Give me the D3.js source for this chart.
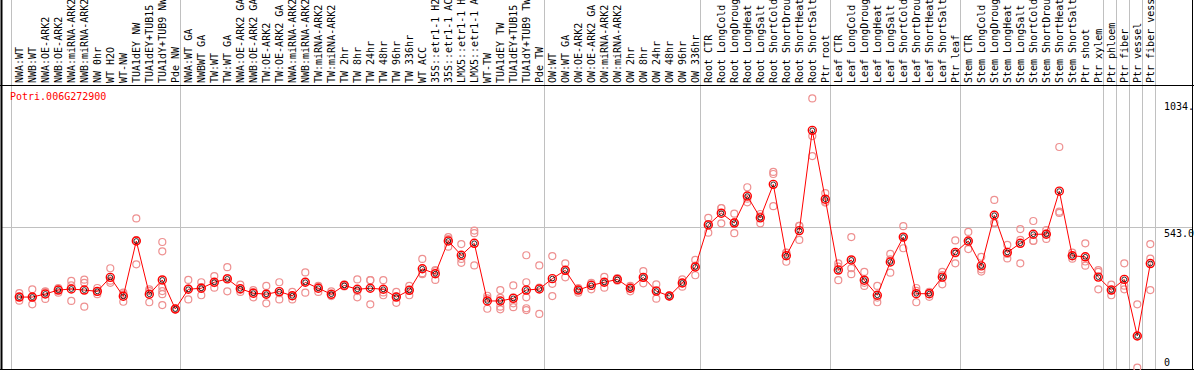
<!DOCTYPE html>
<html>
<head>
<meta charset="utf-8">
<script src="https://cdn.jsdelivr.net/npm/d3@7"></script>
<style>
  body { margin: 0; background: #fff; }
  text { font-family: "DejaVu Sans Mono", monospace; font-size: 10px; }
</style>
</head>
<body>
<div id="chart"></div>
<script>
var gene = "Potri.006G272900";

var samples = ["NWA:WT", "NWB:WT", "NWA:OE-ARK2", "NWB:OE-ARK2", "NWA:miRNA-ARK2", "NWB:miRNA-ARK2",
    "NW 0hr", "WT H2O", "WT-NW", "TUA1dEY NW", "TUA1dEY+TUB15 NW", "TUA1dY+TUB9 NW", "Pde NW",
    "NWA:WT GA", "NWBWT GA", "TW:WT", "TW:WT GA", "NWA:OE-ARK2 GA", "NWB:OE-ARK2 GA", "TW:OE-ARK2",
    "TW:OE-ARK2 GA", "NWA:miRNA-ARK2 GA", "NWB:miRNA-ARK2 GA", "TW:miRNA-ARK2", "TW:miRNA-ARK2 GA",
    "TW 2hr", "TW 8hr", "TW 24hr", "TW 48hr", "TW 96hr", "TW 336hr", "WT ACC", "35S::etr1-1 H2O",
    "35S::etr1-1 ACC", "LMX5::etr1-1 H2O", "LMX5::etr1-1 ACC", "WT-TW", "TUA1dEY TW", "TUA1dEY+TUB15 TW",
    "TUA1dY+TUB9 TW", "Pde TW",
    "OW:WT", "OW:WT GA", "OW:OE-ARK2", "OW:OE-ARK2 GA", "OW:miRNA-ARK2", "OW:miRNA-ARK2 GA",
    "OW 2hr", "OW 8hr", "OW 24hr", "OW 48hr", "OW 96hr", "OW 336hr",
    "Root CTR", "Root LongCold", "Root LongDrought", "Root LongHeat", "Root LongSalt", "Root ShortCold",
    "Root ShortDrought", "Root ShortHeat", "Root ShortSalt", "Ptr root",
    "Leaf CTR", "Leaf LongCold", "Leaf LongDrought", "Leaf LongHeat", "Leaf LongSalt", "Leaf ShortCold",
    "Leaf ShortDrought", "Leaf ShortHeat", "Leaf ShortSalt", "Ptr leaf",
    "Stem CTR", "Stem LongCold", "Stem LongDrought", "Stem LongHeat", "Stem LongSalt", "Stem ShortCold",
    "Stem ShortDrought", "Stem ShortHeat", "Stem ShortSalt", "Ptr shoot", "Ptr xylem",
    "Ptr phloem", "Ptr fiber", "Ptr vessel", "Ptr fiber vessel"];

// index of the first sample of each group (last entry = end)
var group_breaks = [0, 13, 41, 53, 63, 73, 84, 85, 86, 87, 88];

var means = [277, 277, 289, 304, 308, 304, 299, 353, 280, 493, 288, 343, 231,
    307, 311, 334, 347, 309, 292, 288, 298, 282, 334, 311, 288, 322, 307, 311, 307, 277, 303,
    386, 367, 493, 438, 484, 262, 262, 272, 304, 308,
    348, 380, 304, 322, 334, 345, 311, 353, 300, 281, 331, 393,
    555, 600, 562, 666, 582, 711, 436, 533, 919, 654,
    381, 420, 342, 284, 412, 508, 290, 290, 354, 449,
    493, 397, 592, 449, 484, 519, 519, 685, 436, 432, 354,
    304, 345, 127, 406];

var replicates = [[292, 263, 277], [307, 249, 277], [297, 270, 299], [312, 294, 306], [339, 322, 262],
    [344, 332, 240], [312, 288, 298], [388, 332, 340], [294, 259, 287], [580, 403, 496], [307, 257, 300],
    [489, 453, 316, 300, 288, 246], [231, 229, 233],
    [343, 268, 310], [334, 284, 315], [358, 313, 331], [392, 299, 350], [325, 297, 305], [304, 276, 296],
    [320, 253, 291], [334, 268, 292], [297, 268, 281], [372, 294, 336], [320, 297, 316], [299, 284, 281],
    [326, 318, 322], [345, 276, 300], [342, 249, 342], [342, 284, 295], [297, 255, 279], [320, 284, 305],
    [424, 365, 369], [381, 343, 377], [508, 471, 500], [481, 409, 424], [533, 523, 399], [272, 232, 282],
    [304, 240, 230, 274], [322, 253, 238, 276], [438, 334, 276, 234, 227], [399, 212, 313],
    [435, 281, 328], [407, 353, 380], [312, 294, 306], [332, 307, 327], [355, 313, 334], [350, 340, 345],
    [320, 299, 314], [377, 330, 352], [326, 271, 303], [283, 279, 281], [345, 317, 331], [420, 361, 398],
    [582, 525, 558], [620, 561, 619], [598, 523, 565], [700, 642, 656], [597, 561, 588], [759, 751, 627],
    [448, 413, 447], [551, 497, 551], [1042, 897, 820], [677, 644, 641],
    [407, 342, 394], [508, 388, 365], [374, 320, 332], [320, 257, 275], [443, 371, 422], [550, 465, 509],
    [312, 257, 301], [297, 278, 295], [374, 326, 362], [495, 407, 445],
    [528, 462, 489], [432, 375, 384], [651, 561, 564], [478, 426, 443], [539, 407, 497], [570, 494, 493],
    [535, 501, 521], [855, 606, 601], [448, 425, 435], [484, 398, 414], [381, 307, 374],
    [325, 284, 303], [407, 307, 321], [249, 5, 127], [481, 425, 304]];

var y_ticks = [0, 543, 1034];
var y_tick_labels = ["0", "543.0", "1034."];

var W = 1194, H = 370;
var headerH = 85, plotBottom = 369, rightEdge = 1192;

var svg = d3.select("#chart")
    .append("svg")
    .attr("width", W)
    .attr("height", H);

var x = d3.scaleBand()
    .domain(d3.range(samples.length))
    .range([11.3, 1155.3]);

var cx = function(i) { return x(i) + 8; };

var y = d3.scaleLinear()
    .domain([0, 1034])
    .range([plotBottom, 100.5]);

// group separators
svg.selectAll(".sep")
    .data(group_breaks)
    .enter()
    .append("line")
    .attr("class", "sep")
    .attr("x1", function(d) { return d < samples.length ? x(d) : x(d - 1) + x.bandwidth(); })
    .attr("x2", function(d) { return d < samples.length ? x(d) : x(d - 1) + x.bandwidth(); })
    .attr("y1", 0)
    .attr("y2", plotBottom)
    .attr("stroke", "#c0c0c0")
    .attr("stroke-width", 1)
    .attr("shape-rendering", "crispEdges");

// grid line at middle tick
svg.append("line")
    .attr("x1", 1)
    .attr("x2", rightEdge)
    .attr("y1", y(543))
    .attr("y2", y(543))
    .attr("stroke", "#c0c0c0")
    .attr("shape-rendering", "crispEdges");

// frame
svg.append("line").attr("x1", 0).attr("x2", W).attr("y1", headerH + 0.5).attr("y2", headerH + 0.5)
    .attr("stroke", "#000");
svg.append("line").attr("x1", 0).attr("x2", W).attr("y1", plotBottom + 0.5).attr("y2", plotBottom + 0.5)
    .attr("stroke", "#000");
svg.append("line").attr("x1", 1.5).attr("x2", 1.5).attr("y1", 0).attr("y2", H)
    .attr("stroke", "#000").attr("stroke-width", 2);
svg.append("line").attr("x1", rightEdge + 0.5).attr("x2", rightEdge + 0.5).attr("y1", 0).attr("y2", H)
    .attr("stroke", "#000");

// sample labels, rotated (long ones run off the top, as in the original)
svg.selectAll(".lab")
    .data(samples)
    .enter()
    .append("text")
    .attr("class", "lab")
    .attr("transform", function(d, i) { return "translate(" + (cx(i) + 4) + "," + 83 + ") rotate(-90)"; })
    .text(function(d) { return d; })
    .style("fill", "#000");

// y tick labels
svg.selectAll(".ytick")
    .data(y_ticks)
    .enter()
    .append("text")
    .attr("class", "ytick")
    .attr("x", 1164)
    .attr("y", function(d) { return d == 0 ? y(d) - 3.5 : y(d) + 9.5; })
    .text(function(d, i) { return y_tick_labels[i]; })
    .style("fill", "#000");

// title
svg.append("text")
    .attr("x", 10)
    .attr("y", 100)
    .text(gene)
    .style("fill", "#ff0000");

// replicate points
var reps = [];
replicates.forEach(function(r, i) {
    r.forEach(function(v) { reps.push({ i: i, v: v }); });
});

svg.selectAll(".rep")
    .data(reps)
    .enter()
    .append("circle")
    .attr("class", "rep")
    .attr("cx", function(d) { return cx(d.i); })
    .attr("cy", function(d) { return y(d.v); })
    .attr("r", 3.5)
    .attr("fill", "none")
    .attr("stroke", "#ee9090")
    .attr("stroke-width", 1.2);

// mean line
var line = d3.line()
    .x(function(d, i) { return cx(i); })
    .y(function(d) { return y(d); });

svg.append("path")
    .datum(means)
    .attr("d", line)
    .attr("fill", "none")
    .attr("stroke", "#ff0000")
    .attr("stroke-width", 1);

// mean markers: red ring with a thin dark ring inside
svg.selectAll(".meanIn")
    .data(means)
    .enter()
    .append("circle")
    .attr("class", "meanIn")
    .attr("cx", function(d, i) { return cx(i); })
    .attr("cy", function(d) { return y(d); })
    .attr("r", 2.4)
    .attr("fill", "none")
    .attr("stroke", "#000")
    .attr("stroke-width", 0.8);

svg.selectAll(".mean")
    .data(means)
    .enter()
    .append("circle")
    .attr("class", "mean")
    .attr("cx", function(d, i) { return cx(i); })
    .attr("cy", function(d) { return y(d); })
    .attr("r", 4)
    .attr("fill", "none")
    .attr("stroke", "#ff0000")
    .attr("stroke-width", 1.4);
</script>
</body>
</html>
